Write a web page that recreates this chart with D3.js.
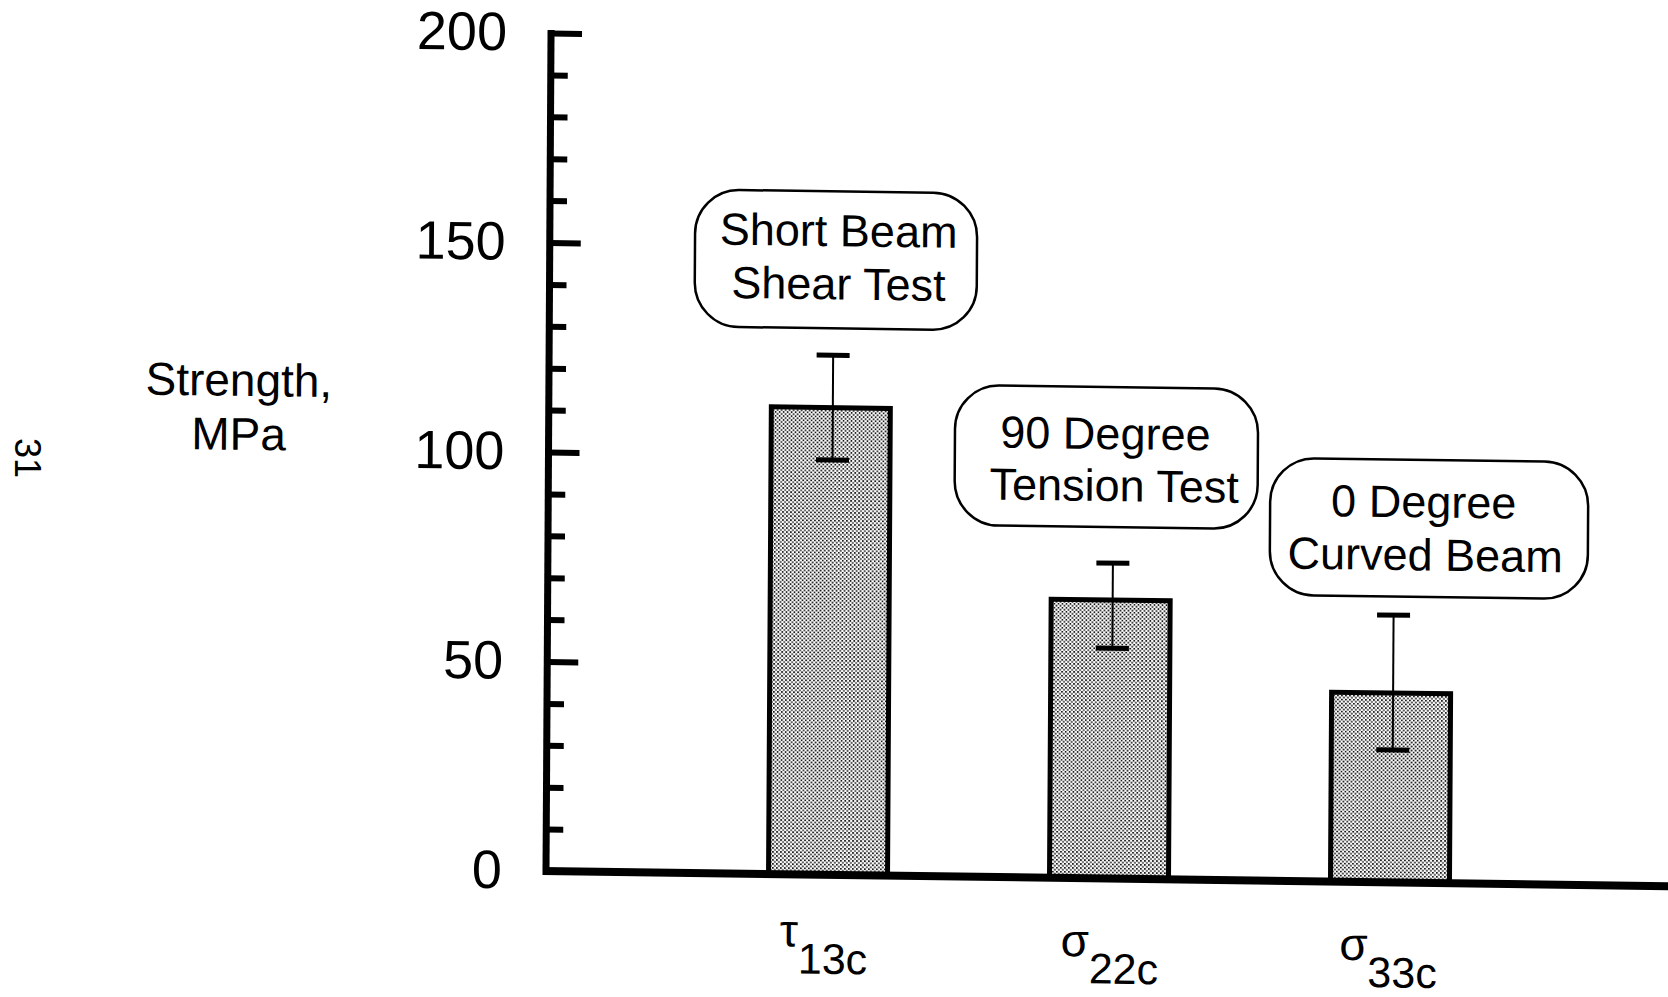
<!DOCTYPE html>
<html>
<head>
<meta charset="utf-8">
<script src="https://cdn.jsdelivr.net/npm/d3@7"></script>
<style>
  html, body { margin: 0; padding: 0; background: #ffffff; }
  svg { display: block; }
  text { font-family: "Liberation Sans", Arial, Helvetica, sans-serif; fill: #000; }
</style>
</head>
<body>
<script>
// ---- data -------------------------------------------------------------
const categories  = ["τ13c", "σ22c", "σ33c"];
const symbols     = ["τ", "σ", "σ"];
const subscripts  = ["13c", "22c", "33c"];
const strength    = [111.5, 66.5, 45.2];   // MPa, bar height
const errorHigh   = [124.0, 75.3, 63.8];   // MPa, upper whisker
const errorLow    = [99.0, 55.0, 31.6];    // MPa, lower whisker
const testNames   = [["Short Beam", "Shear Test"],
                     ["90 Degree", "Tension Test"],
                     ["0 Degree", "Curved Beam"]];
const majorTicks  = [0, 50, 100, 150, 200];
const minorTicks  = [10, 20, 30, 40, 60, 70, 80, 90, 110, 120, 130, 140, 160, 170, 180, 190];
const yLabel      = ["Strength,", "MPa"];
const pageNumber  = "31";

// ---- layout -----------------------------------------------------------
const W = 1668, H = 997;
const ox = 546, oy = 871;          // axis corner

// callout boxes, placed relative to each bar's centre
const boxLayout = [
  { dx: 4.2,  cy: 256.0, w: 282, h: 137, lines: [{ dx: 2.6, dy: -13.7 }, { dx: 2.6,  dy: 39.5 }] },
  { dx: -5.2, cy: 449.5, w: 303, h: 140, lines: [{ dx: -1,  dy: -8 },    { dx: 8,    dy: 44 }] },
  { dx: 36.9, cy: 516.6, w: 318, h: 137, lines: [{ dx: -5.4, dy: -11 },  { dx: -3.7, dy: 42 }] }
];
const catLabelLayout = [
  { dx: -4.1, y: 970 },
  { dx: 0.8,  y: 976 },
  { dx: -1.5, y: 976 }
];

const svg = d3.select("body").append("svg")
  .attr("width", W).attr("height", H)
  .attr("viewBox", `0 0 ${W} ${H}`);

// fine halftone dot fill for the bars
const defs = svg.append("defs");
const pat = defs.append("pattern")
  .attr("id", "stipple")
  .attr("patternUnits", "userSpaceOnUse")
  .attr("width", 4).attr("height", 4);
pat.append("rect").attr("width", 4).attr("height", 4).attr("fill", "#ffffff");
pat.append("rect").attr("x", 0).attr("y", 0).attr("width", 1.7).attr("height", 1.7).attr("fill", "#1a1a1a");
pat.append("rect").attr("x", 2).attr("y", 2).attr("width", 1.7).attr("height", 1.7).attr("fill", "#1a1a1a");

// the printed page sits slightly askew
const g = svg.append("g")
  .attr("transform", `matrix(1,0.0135,-0.006,1,${0.006 * oy},${-0.0135 * ox})`);

// ---- scales -----------------------------------------------------------
const y = d3.scaleLinear().domain([0, 200]).range([oy, 33]);
const x = d3.scaleBand()
  .domain(categories)
  .range([ox, 1672])
  .paddingInner(0.5765)
  .paddingOuter(0.792);

// ---- bars -------------------------------------------------------------
g.append("g").selectAll("rect")
  .data(categories)
  .join("rect")
  .attr("x", d => x(d))
  .attr("y", (d, i) => y(strength[i]))
  .attr("width", x.bandwidth())
  .attr("height", (d, i) => y(0) - y(strength[i]))
  .attr("fill", "url(#stipple)")
  .attr("stroke", "#000")
  .attr("stroke-width", 5);

// ---- error bars -------------------------------------------------------
const eb = g.append("g").selectAll("g")
  .data(categories)
  .join("g")
  .attr("transform", d => `translate(${x(d) + x.bandwidth() / 2 + 2},0)`);
eb.append("line")
  .attr("x1", 0).attr("x2", 0)
  .attr("y1", (d, i) => y(errorHigh[i]))
  .attr("y2", (d, i) => y(errorLow[i]))
  .attr("stroke", "#000").attr("stroke-width", 2);
[errorHigh, errorLow].forEach(arr => {
  eb.append("line")
    .attr("x1", -16.5).attr("x2", 16.5)
    .attr("y1", (d, i) => y(arr[i]))
    .attr("y2", (d, i) => y(arr[i]))
    .attr("stroke", "#000").attr("stroke-width", 5);
});

// ---- axes -------------------------------------------------------------
const minorAxis = g.append("g")
  .attr("transform", `translate(${ox},0)`)
  .call(d3.axisRight(y).tickValues(minorTicks).tickSize(17).tickFormat(""));
const majorAxis = g.append("g")
  .attr("transform", `translate(${ox},0)`)
  .call(d3.axisRight(y).tickValues(majorTicks.filter(v => v > 0)).tickSize(31).tickFormat(""));
[minorAxis, majorAxis].forEach(a => {
  a.select(".domain").remove();
  a.selectAll(".tick line").attr("stroke", "#000").attr("stroke-width", 6);
});

const labelAxis = g.append("g")
  .attr("transform", `translate(${ox},0)`)
  .call(d3.axisLeft(y).tickValues(majorTicks).tickSize(0).tickPadding(44));
labelAxis.select(".domain").remove();
labelAxis.selectAll(".tick text")
  .attr("font-size", 54)
  .attr("font-family", "'Liberation Sans', Arial, Helvetica, sans-serif")
  .attr("fill", "#000");

// axis lines
g.append("line")
  .attr("x1", ox).attr("x2", ox)
  .attr("y1", y(200) - 3).attr("y2", y(0) + 4)
  .attr("stroke", "#000").attr("stroke-width", 7);
g.append("line")
  .attr("x1", ox - 3).attr("x2", 1760)
  .attr("y1", y(0)).attr("y2", y(0))
  .attr("stroke", "#000").attr("stroke-width", 8);

// ---- category labels (Greek symbol with subscript) --------------------
const cl = g.append("g").selectAll("text")
  .data(categories)
  .join("text")
  .attr("x", (d, i) => x(d) + x.bandwidth() / 2 + catLabelLayout[i].dx)
  .attr("y", (d, i) => catLabelLayout[i].y)
  .attr("text-anchor", "middle");
cl.append("tspan")
  .attr("font-size", 46)
  .attr("dy", -27)
  .text((d, i) => symbols[i]);
cl.append("tspan")
  .attr("font-size", 43)
  .attr("dy", 27)
  .text((d, i) => subscripts[i]);

// ---- callout boxes ----------------------------------------------------
const boxes = g.append("g").selectAll("g")
  .data(categories)
  .join("g")
  .attr("transform", (d, i) =>
    `translate(${x(d) + x.bandwidth() / 2 + boxLayout[i].dx},${boxLayout[i].cy})`);
boxes.append("rect")
  .attr("x", (d, i) => -boxLayout[i].w / 2)
  .attr("y", (d, i) => -boxLayout[i].h / 2)
  .attr("width", (d, i) => boxLayout[i].w)
  .attr("height", (d, i) => boxLayout[i].h)
  .attr("rx", 44).attr("ry", 44)
  .attr("fill", "#fff")
  .attr("stroke", "#000")
  .attr("stroke-width", 2.5);
boxes.each(function (d, i) {
  const sel = d3.select(this);
  testNames[i].forEach((line, j) => {
    sel.append("text")
      .attr("x", boxLayout[i].lines[j].dx)
      .attr("y", boxLayout[i].lines[j].dy)
      .attr("text-anchor", "middle")
      .attr("font-size", 45)
      .text(line);
  });
});

// ---- y-axis title -----------------------------------------------------
g.append("g").selectAll("text")
  .data(yLabel)
  .join("text")
  .attr("x", 236)
  .attr("y", (d, i) => 400 + i * 54)
  .attr("text-anchor", "middle")
  .attr("font-size", 46)
  .text(d => d);

// ---- page number ------------------------------------------------------
svg.append("text")
  .attr("transform", "translate(27.5,458) rotate(90)")
  .attr("text-anchor", "middle")
  .attr("dy", "0.35em")
  .attr("font-size", 36)
  .text(pageNumber);
</script>
</body>
</html>
